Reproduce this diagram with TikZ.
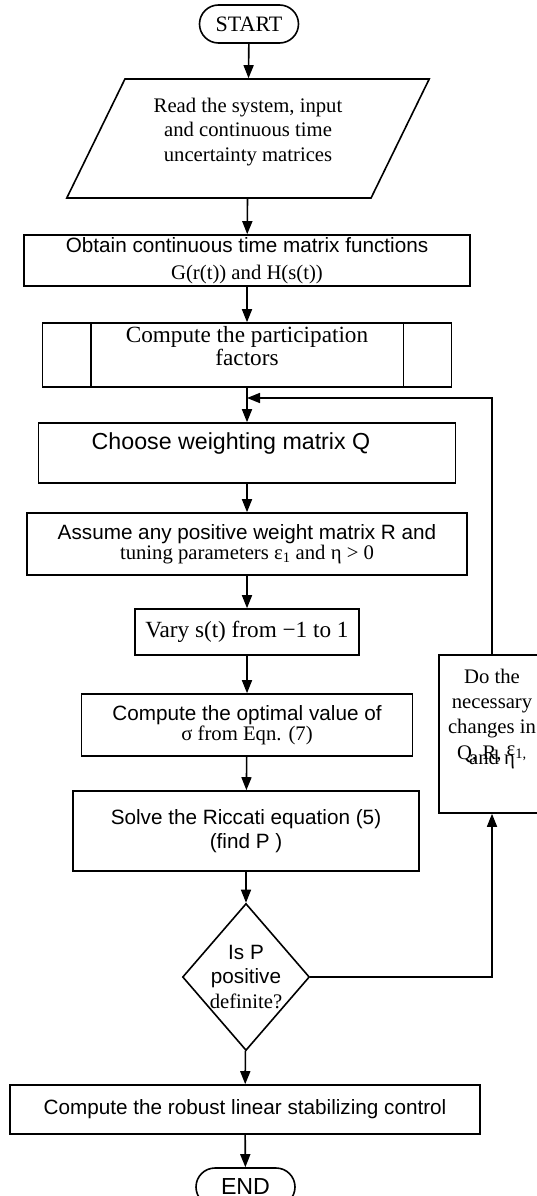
\documentclass[tikz,border=0pt]{standalone}
\usepackage{fontspec}
\setmainfont{Liberation Serif}
\setsansfont{Liberation Sans}
\usetikzlibrary{shapes.geometric,shapes.misc,arrows.meta}

\newcommand{\nrm}{\fontsize{20.7pt}{24.5pt}\selectfont}
\newcommand{\lrg}{\fontsize{23.2pt}{23pt}\selectfont}

\begin{document}
\begin{tikzpicture}[x=1pt, y=-1pt, line width=1.6pt,
        box/.style={draw, rectangle, align=center, inner sep=0pt, font=\nrm},
        term/.style={draw, rounded rectangle, minimum width=99, minimum height=38, inner sep=0pt},
        arr/.style={-{Triangle[length=13pt,width=10pt]}}]
        \useasboundingbox (0,0) rectangle (537,1196);

        \node[term, font=\fontsize{22pt}{24pt}\selectfont\rmfamily] (start) at (249,24) {START};
        \node[draw, trapezium, trapezium left angle=58.5, trapezium right angle=121.5,
              trapezium stretches=true, minimum width=364, minimum height=119,
              inner sep=0pt, font=\nrm] (read) at (248,138.5)
              {\parbox[c][81pt][t]{210pt}{\centering Read the system, input\\and continuous time\\uncertainty matrices}};
        \node[box, minimum width=446, minimum height=51] (obtain) at (247,260.5)
              {\sffamily Obtain continuous time matrix functions\\[2pt]\rmfamily G(r(t)) and H(s(t))};
        \node[box, minimum width=409, minimum height=64, font=\lrg] (part) at (247,355)
              {\parbox[c][57pt][t]{300pt}{\centering Compute the participation\\factors}};
        \draw ([xshift=49]part.north west) -- ([xshift=49]part.south west);
        \draw ([xshift=-49]part.north east) -- ([xshift=-49]part.south east);
        \node[box, minimum width=417, minimum height=60, font=\lrg\sffamily, text depth=23pt] (choose) at (247,453)
              {\hspace*{-32pt}Choose weighting matrix Q};
        \node[box, minimum width=440, minimum height=62] (assume) at (247,544)
              {\sffamily Assume any positive weight matrix R and\\[-4.5pt]\rmfamily tuning parameters ε\textsubscript{1} and η > 0};
        \node[box, minimum width=224, minimum height=46, font=\lrg] (vary) at (247,632)
              {Vary s(t) from −1 to 1};
        \node[box, minimum width=331, minimum height=62] (optimal) at (247,725)
              {\sffamily Compute the optimal value of\\[-4.5pt]\rmfamily σ from Eqn. (7)};
        \node[box, minimum width=346, minimum height=80, font=\nrm\sffamily] (solve) at (246,831)
              {Solve the Riccati equation (5)\\(find P )};
        \node[draw, diamond, minimum width=127, minimum height=147, inner sep=0pt] (check) at (246,977) {};
        \node[align=center, font=\nrm] (checktxt) at (check)
              {\sffamily Is P\\\sffamily positive\\\rmfamily definite?};
        \node[box, minimum width=470, minimum height=49, font=\nrm\sffamily] (final) at (245,1109.5)
              {Compute the robust linear stabilizing control};
        \node[term, font=\lrg\sffamily] (end) at (245.5,1187) {END};
        \node[box, minimum width=106, minimum height=158, font=\fontsize{20.7pt}{25.3pt}\selectfont] (change) at (492,734)
              {\parbox[c][130pt][t]{104pt}{\centering Do the\\necessary\\changes in\\Q, R, \raisebox{4pt}{ε\textsubscript{1,}}\\[-20pt]and η}};

        \draw[arr] (start) -- (read);
        \draw[arr] (read) -- (obtain);
        \draw[arr] (obtain) -- (part);
        \draw[arr] (part) -- (choose);
        \draw[arr] (choose) -- (assume);
        \draw[arr] (assume) -- (vary);
        \draw[arr] (vary) -- (optimal);
        \draw[arr] (optimal) -- (solve);
        \draw[arr] (solve) -- (check);
        \draw[arr] (check) -- (final);
        \draw[arr] (final) -- (end);

        \coordinate (merge) at (247,398);
        \draw[arr] (check.east) -| (change.south);
        \draw[arr] (change.north) |- (merge);
\end{tikzpicture}
\end{document}
